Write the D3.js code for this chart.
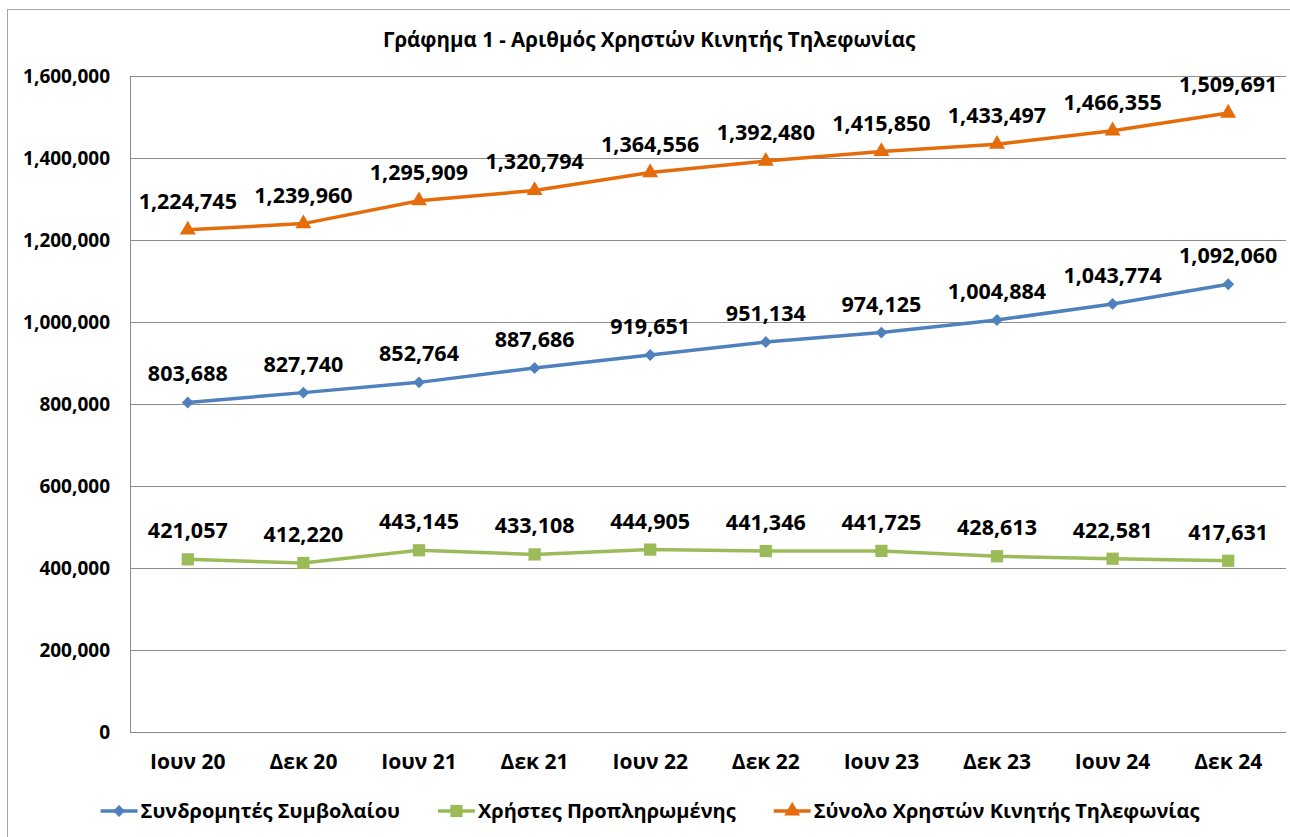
<!DOCTYPE html>
<html>
<head>
<meta charset="utf-8">
<script src="https://cdn.jsdelivr.net/npm/d3@7"></script>
<style>
  body { margin: 0; background: #fff; }
  text { font-family: "Open Sans", "Noto Sans", sans-serif; font-weight: bold; fill: #000; }
</style>
</head>
<body>
<div id="chart"></div>
<script>
// data
const categories = ["Ιουν 20", "Δεκ 20", "Ιουν 21", "Δεκ 21", "Ιουν 22", "Δεκ 22", "Ιουν 23", "Δεκ 23", "Ιουν 24", "Δεκ 24"];
const contractUsers = [803688, 827740, 852764, 887686, 919651, 951134, 974125, 1004884, 1043774, 1092060];
const prepaidUsers = [421057, 412220, 443145, 433108, 444905, 441346, 441725, 428613, 422581, 417631];
const totalUsers = [1224745, 1239960, 1295909, 1320794, 1364556, 1392480, 1415850, 1433497, 1466355, 1509691];
const seriesNames = ["Συνδρομητές Συμβολαίου", "Χρήστες Προπληρωμένης", "Σύνολο Χρηστών Κινητής Τηλεφωνίας"];
const yTicks = [0, 200000, 400000, 600000, 800000, 1000000, 1200000, 1400000, 1600000];
const title = "Γράφημα 1 - Αριθμός Χρηστών Κινητής Τηλεφωνίας";

const series = [
  { name: seriesNames[0], values: contractUsers, color: "#4F81BD", shape: "diamond" },
  { name: seriesNames[1], values: prepaidUsers, color: "#9BBB59", shape: "square" },
  { name: seriesNames[2], values: totalUsers, color: "#E46C0A", shape: "triangle" }
];

const W = 1290, H = 837;
const margin = {top: 76, right: 4, bottom: 105, left: 130},
  width = W - margin.left - margin.right,
  height = H - margin.top - margin.bottom;

const root = d3.select("#chart").append("svg")
  .attr("width", W).attr("height", H);

// outer chart border (only left/top visible in the frame)
root.append("rect")
  .attr("x", 7.5).attr("y", 9.5)
  .attr("width", 1300).attr("height", 850)
  .attr("fill", "none").attr("stroke", "#A6A6A6").attr("stroke-width", 1);

root.append("text")
  .attr("x", 649).attr("y", 47)
  .attr("text-anchor", "middle")
  .style("font-size", "20.5px")
  .text(title);

const svg = root.append("g")
  .attr("transform", `translate(${margin.left},${margin.top})`);

const x = d3.scaleBand().domain(categories).range([0, width]);
const y = d3.scaleLinear().domain([0, 1600000]).range([height, 0]);
const fmt = d3.format(",");

// gridlines
svg.selectAll(".grid")
  .data(yTicks)
  .join("line")
  .attr("x1", 0).attr("x2", width)
  .attr("y1", d => Math.round(y(d)) + 0.5).attr("y2", d => Math.round(y(d)) + 0.5)
  .attr("stroke", "#8C8C8C").attr("stroke-width", 1);

// y axis
const yAxis = svg.append("g")
  .call(d3.axisLeft(y).tickValues(yTicks).tickSize(0).tickPadding(20).tickFormat(fmt));
yAxis.select(".domain").attr("stroke", "#8C8C8C");
yAxis.selectAll("text").style("font-size", "19px").attr("font-family", null);

// x axis
const xAxis = svg.append("g")
  .attr("transform", `translate(0,${height})`)
  .call(d3.axisBottom(x).tickSize(0).tickPadding(22));
xAxis.select(".domain").remove();
xAxis.selectAll("text").style("font-size", "21px").attr("font-family", null);

const cx = (d, i) => x(categories[i]) + x.bandwidth() / 2;

const symbolFor = {
  diamond: d3.symbol().type(d3.symbolDiamond2).size(90),
  square: d3.symbol().type(d3.symbolSquare).size(150),
  triangle: d3.symbol().type(d3.symbolTriangle).size(110)
};

const line = d3.line().x(cx).y(d => y(d));

series.forEach(s => {
  svg.append("path")
    .datum(s.values)
    .attr("d", line)
    .attr("fill", "none")
    .attr("stroke", s.color)
    .attr("stroke-width", 3.5);

  svg.selectAll(null)
    .data(s.values)
    .join("path")
    .attr("d", symbolFor[s.shape])
    .attr("transform", (d, i) => `translate(${cx(d, i)},${y(d)})`)
    .attr("fill", s.color);

  svg.selectAll(null)
    .data(s.values)
    .join("text")
    .attr("x", cx)
    .attr("y", d => y(d) - 21)
    .attr("text-anchor", "middle")
    .style("font-size", "21.5px")
    .text(d => fmt(d));
});

// legend
const legend = root.append("g").attr("transform", "translate(0,811)");
let lx = 0;
const items = legend.selectAll("g")
  .data(series)
  .join("g");
items.append("line")
  .attr("x1", 0).attr("x2", 37).attr("y1", 0).attr("y2", 0)
  .attr("stroke", d => d.color).attr("stroke-width", 3.5);
items.append("path")
  .attr("d", d => symbolFor[d.shape]())
  .attr("transform", "translate(18.5,0)")
  .attr("fill", d => d.color);
items.append("text")
  .attr("x", 40).attr("dy", "0.35em")
  .style("font-size", "20px")
  .text(d => d.name);
items.each(function() {
  const w = this.getBBox().width;
  d3.select(this).attr("transform", `translate(${lx},0)`);
  lx += w + 38;
});
const totalW = lx - 38;
legend.attr("transform", `translate(${650 - totalW / 2},811)`);
</script>
</body>
</html>
